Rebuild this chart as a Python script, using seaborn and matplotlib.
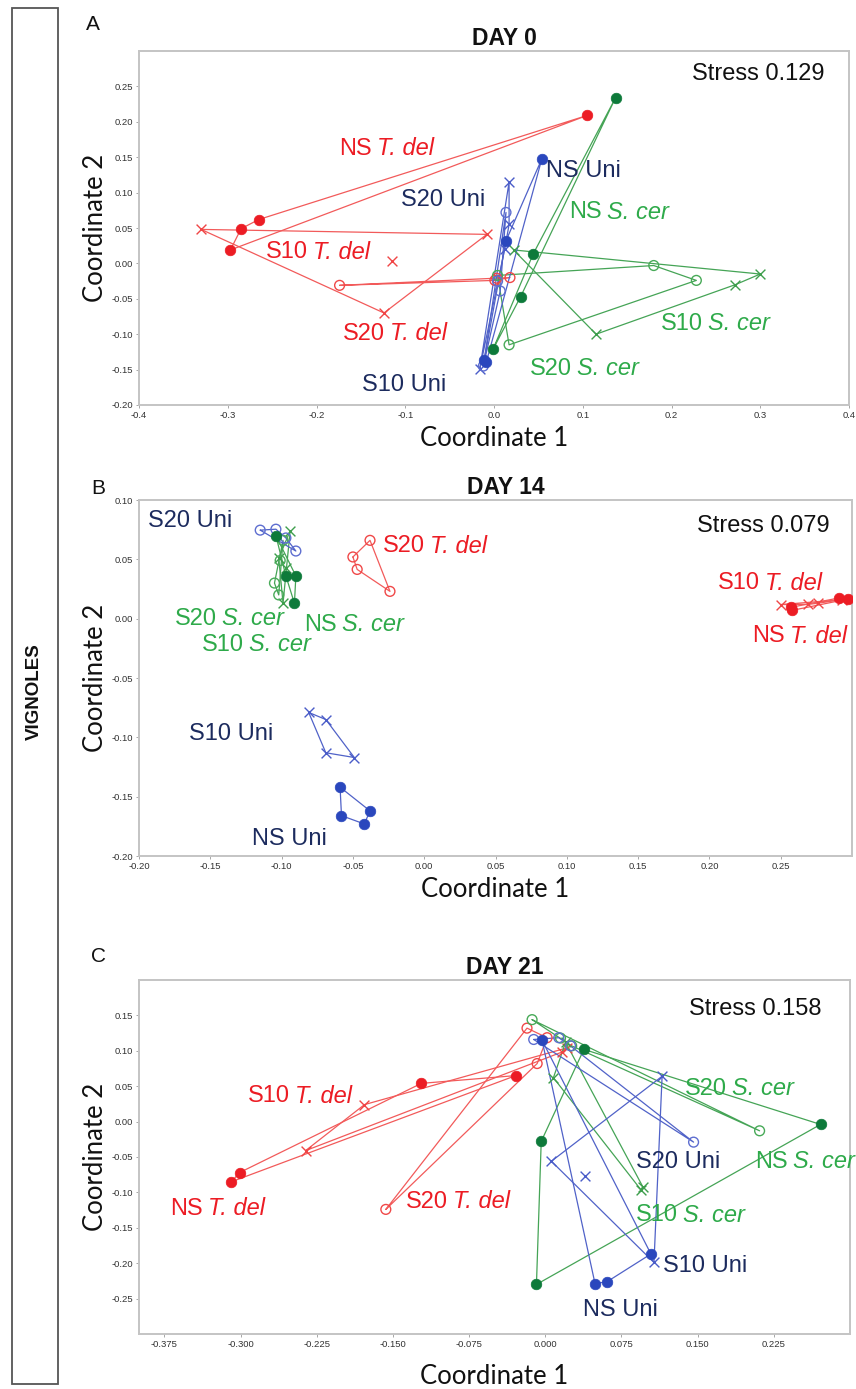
import numpy as np
import matplotlib
matplotlib.use("Agg")
import matplotlib.pyplot as plt
from matplotlib.patches import Rectangle
import seaborn as sns

# ---------------- DATA ----------------
# DAY 0
d0_ns_uni_x = [0.054, 0.0135, -0.0086, -0.011]
d0_ns_uni_y = [0.148, 0.032, -0.139, -0.136]
d0_s10_uni_x = [0.017, 0.017, 0.012, -0.016]
d0_s10_uni_y = [0.115, 0.055, 0.020, -0.149]
d0_s20_uni_x = [0.0135, 0.007, 0.004, -0.012]
d0_s20_uni_y = [0.072, -0.039, -0.025, -0.145]
d0_ns_tdel_x = [0.105, -0.265, -0.285, -0.297]
d0_ns_tdel_y = [0.209, 0.062, 0.049, 0.019]
d0_s10_tdel_x = [-0.330, -0.008, -0.115, -0.124]
d0_s10_tdel_y = [0.048, 0.041, 0.003, -0.070]
d0_s20_tdel_x = [-0.174, 0.003, 0.018, 0.001]
d0_s20_tdel_y = [-0.031, -0.021, -0.020, -0.024]
d0_ns_scer_x = [0.137, 0.044, 0.030, -0.001]
d0_ns_scer_y = [0.234, 0.013, -0.047, -0.121]
d0_s10_scer_x = [0.300, 0.272, 0.115, 0.022]
d0_s10_scer_y = [-0.015, -0.030, -0.100, 0.019]
d0_s20_scer_x = [0.180, 0.228, 0.017, 0.004]
d0_s20_scer_y = [-0.003, -0.024, -0.115, -0.017]

# DAY 14
d14_ns_uni_x = [-0.059, -0.038, -0.042, -0.058]
d14_ns_uni_y = [-0.142, -0.162, -0.173, -0.166]
d14_s10_uni_x = [-0.081, -0.069, -0.069, -0.049]
d14_s10_uni_y = [-0.079, -0.085, -0.113, -0.117]
d14_s20_uni_x = [-0.115, -0.104, -0.097, -0.090]
d14_s20_uni_y = [0.0746, 0.0754, 0.068, 0.057]
d14_ns_tdel_x = [0.257, 0.258, 0.291, 0.297]
d14_ns_tdel_y = [0.0095, 0.0070, 0.0175, 0.0165]
d14_s10_tdel_x = [0.2504, 0.269, 0.276, 0.293]
d14_s10_tdel_y = [0.0119, 0.012, 0.013, 0.016]
d14_s20_tdel_x = [-0.038, -0.050, -0.047, -0.024]
d14_s20_tdel_y = [0.066, 0.052, 0.0415, 0.023]
d14_ns_scer_x = [-0.104, -0.097, -0.090, -0.091]
d14_ns_scer_y = [0.070, 0.036, 0.036, 0.013]
d14_s10_scer_x = [-0.094, -0.099, -0.102, -0.097]
d14_s10_scer_y = [0.074, 0.013, 0.051, 0.043]
d14_s20_scer_x = [-0.105, -0.102, -0.099, -0.101]
d14_s20_scer_y = [0.030, 0.020, 0.066, 0.049]

# DAY 21
d21_ns_uni_x = [-0.0032, 0.049, 0.061, 0.104]
d21_ns_uni_y = [0.115, -0.229, -0.226, -0.187]
d21_s10_uni_x = [0.115, 0.107, 0.006, 0.039]
d21_s10_uni_y = [0.064, -0.199, -0.056, -0.077]
d21_s20_uni_x = [-0.0114, 0.0133, 0.0248, 0.146]
d21_s20_uni_y = [0.116, 0.1185, 0.107, -0.029]
d21_ns_tdel_x = [-0.301, -0.309, -0.122, -0.029]
d21_ns_tdel_y = [-0.072, -0.085, 0.054, 0.065]
d21_s10_tdel_x = [-0.178, -0.236, 0.021, 0.016]
d21_s10_tdel_y = [0.024, -0.041, 0.104, 0.098]
d21_s20_tdel_x = [-0.157, -0.018, 0.0018, -0.008]
d21_s20_tdel_y = [-0.124, 0.132, 0.1185, 0.082]
d21_ns_scer_x = [-0.004, -0.0087, 0.271, 0.038]
d21_ns_scer_y = [-0.028, -0.230, -0.004, 0.102]
d21_s10_scer_x = [0.094, 0.096, 0.008, 0.020]
d21_s10_scer_y = [-0.096, -0.092, 0.062, 0.112]
d21_s20_scer_x = [-0.013, 0.015, 0.026, 0.211]
d21_s20_scer_y = [0.144, 0.118, 0.107, -0.013]

panel_titles = ["DAY 0", "DAY 14", "DAY 21"]
panel_letters = ["A", "B", "C"]
stress_labels = ["Stress 0.129", "Stress 0.079", "Stress 0.158"]

x_ticks_0 = [-0.4, -0.3, -0.2, -0.1, 0.0, 0.1, 0.2, 0.3, 0.4]
y_ticks_0 = [-0.20, -0.15, -0.10, -0.05, 0.00, 0.05, 0.10, 0.15, 0.20, 0.25]
x_ticks_14 = [-0.20, -0.15, -0.10, -0.05, 0.00, 0.05, 0.10, 0.15, 0.20, 0.25]
y_ticks_14 = [-0.20, -0.15, -0.10, -0.05, 0.00, 0.05, 0.10]
x_ticks_21 = [-0.375, -0.300, -0.225, -0.150, -0.075, 0.000, 0.075, 0.150, 0.225]
y_ticks_21 = [-0.25, -0.20, -0.15, -0.10, -0.05, 0.00, 0.05, 0.10, 0.15]

# group labels: (plain part, italic part, x, y, species)
labels_0 = [
    ("NS", "T. del", -0.174, 0.162, "tdel"),
    ("NS Uni", None, 0.059, 0.130, "uni"),
    ("S20 Uni", None, -0.105, 0.090, "uni"),
    ("NS", "S. cer", 0.085, 0.072, "scer"),
    ("S10", "T. del", -0.257, 0.0155, "tdel"),
    ("S20", "T. del", -0.170, -0.0995, "tdel"),
    ("S10", "S. cer", 0.188, -0.085, "scer"),
    ("S20", "S. cer", 0.040, -0.149, "scer"),
    ("S10 Uni", None, -0.149, -0.172, "uni"),
]
labels_14 = [
    ("S20 Uni", None, -0.194, 0.0825, "uni"),
    ("S20", "T. del", -0.029, 0.061, "tdel"),
    ("S10", "T. del", 0.206, 0.030, "tdel"),
    ("NS", "T. del", 0.230, -0.015, "tdel"),
    ("S20", "S. cer", -0.175, 0.000, "scer"),
    ("NS", "S. cer", -0.084, -0.005, "scer"),
    ("S10", "S. cer", -0.156, -0.022, "scer"),
    ("S10 Uni", None, -0.165, -0.097, "uni"),
    ("NS Uni", None, -0.121, -0.186, "uni"),
]
labels_21 = [
    ("S10", "T. del", -0.293, 0.036, "tdel"),
    ("S20", "S. cer", 0.137, 0.0466, "scer"),
    ("S20 Uni", None, 0.089, -0.0564, "uni"),
    ("NS", "S. cer", 0.2066, -0.0564, "scer"),
    ("NS", "T. del", -0.369, -0.1228, "tdel"),
    ("S20", "T. del", -0.137, -0.113, "tdel"),
    ("S10", "S. cer", 0.089, -0.132, "scer"),
    ("S10 Uni", None, 0.116, -0.204, "uni"),
    ("NS Uni", None, 0.037, -0.266, "uni"),
]
stress_pos = [(0.223, 0.268), (0.191, 0.078), (0.141, 0.1585)]

# ---------------- STYLE ----------------
sns.set_theme(style="white")
plt.rcParams["font.family"] = ["DejaVu Sans"]

W, H = 856, 1389
fig = plt.figure(figsize=(W / 100, H / 100), dpi=100)

LABEL_FONT = ["Liberation Sans Narrow", "Liberation Sans", "DejaVu Sans"]
TICK_FONT = ["Liberation Sans", "DejaVu Sans"]
AXLAB_FONT = ["Lato", "DejaVu Sans"]
LAB_SIZE = 17

line_col = {"uni": "#5062c8", "tdel": "#f25a5a", "scer": "#45a456"}
mark_col = {
    ("uni", "ns"): "#2a47bd", ("uni", "s10"): "#4a5cc8", ("uni", "s20"): "#5e6ed0",
    ("tdel", "ns"): "#ec1c24", ("tdel", "s10"): "#f04545", ("tdel", "s20"): "#f04848",
    ("scer", "ns"): "#0d7a3a", ("scer", "s10"): "#3d9e4c", ("scer", "s20"): "#48aa58",
}
text_col = {"uni": "#1c2b5e", "tdel": "#ec1c24", "scer": "#2eaa4a"}


def convex_hull(xs, ys):
    pts = sorted(zip(xs, ys))

    def cross(o, a, b):
        return (a[0] - o[0]) * (b[1] - o[1]) - (a[1] - o[1]) * (b[0] - o[0])

    lower = []
    for p in pts:
        while len(lower) >= 2 and cross(lower[-2], lower[-1], p) <= 0:
            lower.pop()
        lower.append(p)
    upper = []
    for p in reversed(pts):
        while len(upper) >= 2 and cross(upper[-2], upper[-1], p) <= 0:
            upper.pop()
        upper.append(p)
    h = lower[:-1] + upper[:-1]
    h.append(h[0])
    return [p[0] for p in h], [p[1] for p in h]


def groups_for(prefix):
    g = globals()
    out = []
    for sp in ["tdel", "scer", "uni"]:
        for tr in ["ns", "s10", "s20"]:
            out.append((sp, tr, g[f"{prefix}_{tr}_{sp}_x"], g[f"{prefix}_{tr}_{sp}_y"]))
    return out


def draw_panel(ax, prefix, xlim, ylim, xt, yt, xfmt, yfmt, labels, stress, spos, title):
    for sp, tr, xs, ys in groups_for(prefix):
        hx, hy = convex_hull(xs, ys)
        sns.lineplot(x=hx, y=hy, sort=False, estimator=None, ax=ax,
                     color=line_col[sp], lw=0.9, legend=False, zorder=2)
    for sp, tr, xs, ys in groups_for(prefix):
        c = mark_col[(sp, tr)]
        if tr == "ns":
            sns.scatterplot(x=xs, y=ys, ax=ax, marker="o", s=58, color=c,
                            edgecolor=c, linewidth=0.5, zorder=4, legend=False)
        elif tr == "s10":
            sns.scatterplot(x=xs, y=ys, ax=ax, marker="x", s=50, color=c,
                            linewidth=1.0, zorder=3, legend=False)
        else:
            sns.scatterplot(x=xs, y=ys, ax=ax, marker="o", s=50, facecolor="none",
                            edgecolor=c, linewidth=1.0, zorder=3, legend=False)

    ax.set_xlim(*xlim)
    ax.set_ylim(*ylim)
    ax.set_xticks(xt)
    ax.set_yticks(yt)
    ax.set_xticklabels([xfmt.format(v) for v in xt])
    ax.set_yticklabels([yfmt.format(v) for v in yt])
    for lab in ax.get_xticklabels() + ax.get_yticklabels():
        lab.set_fontfamily(TICK_FONT)
        lab.set_fontsize(6.8)
        lab.set_color("#333333")
    ax.tick_params(axis="both", which="both", length=2.5, width=0.6, color="#999999",
                   pad=1.5, bottom=True, left=True, direction="out")
    for s in ax.spines.values():
        s.set_color("#c4c4c4")
        s.set_linewidth(1.4)
        s.set_visible(True)
    ax.grid(False)

    for plain, ital, x, y, sp in labels:
        t1 = ax.text(x, y, plain, color=text_col[sp], fontsize=LAB_SIZE,
                     family=LABEL_FONT, ha="left", va="center", zorder=6)
        if ital:
            ax.annotate(ital, xy=(1, 0.5), xycoords=t1, xytext=(3.8, 0),
                        textcoords="offset points", color=text_col[sp],
                        fontsize=LAB_SIZE, family=LABEL_FONT, style="italic",
                        ha="left", va="center", zorder=6)
    ax.text(spos[0], spos[1], stress, color="#111111", fontsize=LAB_SIZE,
            family=LABEL_FONT, ha="left", va="center", zorder=6)
    ax.set_title(title, fontsize=16.5, fontweight="bold", family=["Liberation Sans", "DejaVu Sans"],
                 x=0.515, pad=4, color="#111111")
    ax.set_xlabel("Coordinate 1", fontsize=18.5, family=AXLAB_FONT, color="#111111")
    ax.set_ylabel("Coordinate 2", fontsize=18.5, family=AXLAB_FONT, color="#111111")


def axes_rect(left, right, top, bottom):
    return [left / W, 1 - bottom / H, (right - left) / W, (bottom - top) / H]


axA = fig.add_axes(axes_rect(139, 849, 51, 405))
axB = fig.add_axes(axes_rect(139, 852, 500, 856))
axC = fig.add_axes(axes_rect(139, 850, 980, 1334))

draw_panel(axA, "d0", (-0.4, 0.4), (-0.20, 0.30), x_ticks_0, y_ticks_0, "{:.1f}", "{:.2f}",
           labels_0, stress_labels[0], stress_pos[0], panel_titles[0])
draw_panel(axB, "d14", (-0.20, 0.30), (-0.20, 0.10), x_ticks_14, y_ticks_14, "{:.2f}", "{:.2f}",
           labels_14, stress_labels[1], stress_pos[1], panel_titles[1])
draw_panel(axC, "d21", (-0.40, 0.30), (-0.30, 0.20), x_ticks_21, y_ticks_21, "{:.3f}", "{:.2f}",
           labels_21, stress_labels[2], stress_pos[2], panel_titles[2])

# x-label top edges (axes fraction below the bottom spine)
axA.xaxis.set_label_coords(0.5, -0.058)
axB.xaxis.set_label_coords(0.5, -0.058)
axC.xaxis.set_label_coords(0.5, -0.084)
for ax in (axA, axB, axC):
    ax.yaxis.set_label_coords(-0.044, 0.5)

# panel letters
fig.text(93 / W, 1 - 25 / H, panel_letters[0], fontsize=15, ha="center", va="center",
         family=["Liberation Sans", "DejaVu Sans"], color="#111111")
fig.text(98 / W, 1 - 488 / H, panel_letters[1], fontsize=15, ha="center", va="center",
         family=["Liberation Sans", "DejaVu Sans"], color="#111111")
fig.text(98 / W, 1 - 957 / H, panel_letters[2], fontsize=15, ha="center", va="center",
         family=["Liberation Sans", "DejaVu Sans"], color="#111111")

# left frame with vertical label
fig.add_artist(Rectangle((11.5 / W, 1 - 1384 / H), 46 / W, (1384 - 8) / H,
                         transform=fig.transFigure, fill=False, ec="#555555", lw=1.3))
fig.text(34.5 / W, 1 - 692 / H, "VIGNOLES", rotation=90, fontsize=13.5, fontweight="bold",
         ha="center", va="center", family=["Liberation Sans", "DejaVu Sans"], color="#111111")

fig.savefig("out.png", dpi=100, facecolor="white")
